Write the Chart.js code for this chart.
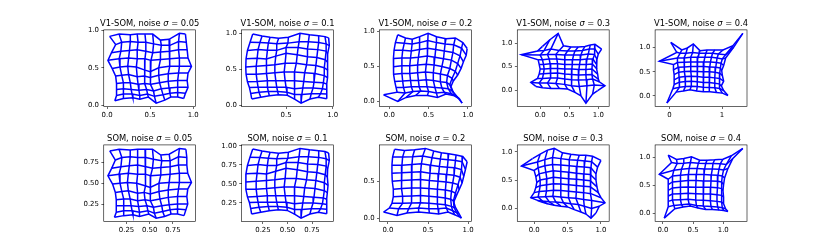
<!DOCTYPE html>
<html>
<head>
<meta charset="utf-8">
<script src="https://cdn.jsdelivr.net/npm/chart.js@4.4.0/dist/chart.umd.min.js"></script>
<style>
  html, body { margin: 0; padding: 0; background: #fff; }
  #fig { position: relative; width: 830px; height: 249px; overflow: hidden; }
  #fig canvas { position: absolute; }
</style>
</head>
<body>
<div id="fig"></div>
<script>
// SOM node grids (10 x 10), one row of the lattice per inner array
// V1-SOM, sigma 0.05
const v1_005_x = [
  [0.03,0.14,0.27,0.35,0.44,0.53,0.62,0.72,0.84,0.91],
  [0.10,0.17,0.27,0.36,0.45,0.54,0.63,0.73,0.83,0.92],
  [0.05,0.16,0.26,0.35,0.45,0.53,0.62,0.73,0.83,0.93],
  [0.01,0.14,0.25,0.35,0.44,0.51,0.62,0.73,0.84,0.94],
  [0.06,0.15,0.24,0.34,0.44,0.50,0.60,0.72,0.84,0.98],
  [0.10,0.17,0.25,0.35,0.43,0.50,0.60,0.71,0.83,0.94],
  [0.11,0.19,0.27,0.36,0.44,0.51,0.61,0.71,0.82,0.93],
  [0.11,0.19,0.28,0.37,0.46,0.54,0.63,0.72,0.82,0.94],
  [0.11,0.19,0.29,0.38,0.47,0.55,0.65,0.73,0.82,0.91],
  [0.09,0.19,0.30,0.38,0.48,0.57,0.67,0.74,0.82,0.89]
];
const v1_005_y = [
  [0.92,0.95,0.94,0.95,0.95,0.95,0.87,0.88,0.96,0.95],
  [0.81,0.84,0.85,0.84,0.84,0.82,0.80,0.80,0.85,0.84],
  [0.70,0.72,0.73,0.74,0.72,0.70,0.71,0.72,0.74,0.74],
  [0.60,0.62,0.63,0.62,0.62,0.60,0.61,0.62,0.63,0.63],
  [0.49,0.51,0.52,0.51,0.47,0.45,0.50,0.52,0.52,0.52],
  [0.39,0.40,0.41,0.38,0.39,0.37,0.40,0.42,0.43,0.43],
  [0.29,0.30,0.30,0.28,0.29,0.28,0.30,0.32,0.33,0.33],
  [0.21,0.22,0.21,0.20,0.21,0.19,0.22,0.23,0.24,0.24],
  [0.13,0.15,0.15,0.13,0.15,0.12,0.14,0.16,0.17,0.16],
  [0.06,0.09,0.10,0.08,0.11,0.03,0.07,0.11,0.11,0.09]
];

// V1-SOM, sigma 0.1
const v1_01_x = [
  [0.143,0.243,0.329,0.421,0.525,0.65,0.75,0.85,0.918,0.957],
  [0.114,0.22,0.31,0.40,0.52,0.64,0.74,0.85,0.93,0.964],
  [0.086,0.20,0.30,0.40,0.50,0.63,0.73,0.84,0.93,0.946],
  [0.071,0.19,0.29,0.39,0.50,0.62,0.73,0.83,0.92,0.943],
  [0.068,0.18,0.29,0.38,0.49,0.61,0.72,0.82,0.91,0.95],
  [0.071,0.18,0.29,0.38,0.48,0.59,0.70,0.81,0.91,0.943],
  [0.086,0.19,0.30,0.39,0.49,0.59,0.69,0.80,0.90,0.936],
  [0.107,0.20,0.30,0.40,0.50,0.59,0.68,0.79,0.89,0.939],
  [0.121,0.21,0.31,0.41,0.51,0.59,0.67,0.77,0.87,0.936],
  [0.132,0.229,0.321,0.418,0.514,0.596,0.661,0.757,0.846,0.936]
];
const v1_01_y = [
  [0.986,0.959,0.941,0.927,0.941,0.995,0.977,0.963,0.95,0.932],
  [0.872,0.87,0.86,0.85,0.86,0.88,0.88,0.87,0.85,0.826],
  [0.758,0.77,0.76,0.76,0.80,0.80,0.78,0.77,0.75,0.712],
  [0.644,0.65,0.64,0.68,0.72,0.70,0.67,0.66,0.63,0.598],
  [0.53,0.54,0.55,0.56,0.58,0.58,0.56,0.55,0.52,0.484],
  [0.429,0.43,0.44,0.45,0.46,0.46,0.45,0.44,0.41,0.384],
  [0.324,0.33,0.34,0.34,0.34,0.34,0.33,0.32,0.31,0.292],
  [0.247,0.25,0.25,0.25,0.25,0.23,0.24,0.24,0.23,0.219],
  [0.164,0.18,0.19,0.19,0.18,0.15,0.15,0.16,0.16,0.155],
  [0.087,0.11,0.132,0.146,0.137,0.082,0.03,0.087,0.11,0.091]
];

// V1-SOM, sigma 0.2
const v1_02_x = [
  [0.107,0.206,0.292,0.386,0.494,0.601,0.721,0.841,0.936,0.991],
  [0.077,0.19,0.29,0.39,0.49,0.60,0.71,0.82,0.92,0.979],
  [0.06,0.17,0.28,0.38,0.49,0.59,0.70,0.81,0.90,0.944],
  [0.052,0.16,0.27,0.37,0.48,0.58,0.69,0.79,0.87,0.914],
  [0.052,0.16,0.26,0.36,0.47,0.57,0.67,0.77,0.84,0.871],
  [0.056,0.16,0.26,0.36,0.46,0.56,0.65,0.74,0.80,0.815],
  [0.069,0.17,0.27,0.37,0.47,0.56,0.65,0.73,0.77,0.785],
  [0.086,0.18,0.28,0.38,0.48,0.58,0.67,0.75,0.80,0.815],
  [0.099,0.20,0.30,0.40,0.50,0.60,0.70,0.79,0.85,0.871],
  [-0.073,0.107,0.215,0.335,0.485,0.614,0.721,0.815,0.893,0.927]
];
const v1_02_y = [
  [0.953,0.906,0.887,0.925,0.972,0.925,0.896,0.906,0.84,0.755],
  [0.84,0.83,0.82,0.84,0.87,0.84,0.82,0.81,0.76,0.66],
  [0.731,0.73,0.72,0.74,0.76,0.74,0.72,0.70,0.65,0.566],
  [0.613,0.62,0.62,0.63,0.65,0.63,0.61,0.59,0.54,0.472],
  [0.495,0.51,0.51,0.52,0.53,0.52,0.50,0.47,0.43,0.377],
  [0.387,0.40,0.40,0.41,0.42,0.41,0.39,0.37,0.33,0.292],
  [0.283,0.29,0.30,0.30,0.31,0.30,0.28,0.27,0.24,0.212],
  [0.198,0.20,0.21,0.21,0.21,0.20,0.19,0.18,0.15,0.132],
  [0.132,0.12,0.14,0.15,0.14,0.12,0.13,0.11,0.08,0.057],
  [0.094,0.0,0.057,0.085,0.085,0.057,0.104,0.085,0.038,-0.024]
];

// V1-SOM, sigma 0.3
const v1_03_x = [
  [0.04,0.167,0.31,0.402,0.529,0.655,0.77,0.862,0.943,1.057],
  [-0.046,0.069,0.184,0.328,0.471,0.598,0.73,0.845,0.943,1.0],
  [-0.322,0,0.126,0.27,0.425,0.575,0.701,0.828,0.931,0.977],
  [-0.034,0.04,0.155,0.287,0.425,0.557,0.69,0.805,0.908,0.966],
  [-0.017,0.057,0.172,0.299,0.425,0.552,0.678,0.793,0.897,0.977],
  [0,0.069,0.184,0.299,0.425,0.546,0.667,0.787,0.891,0.989],
  [-0.017,0.057,0.184,0.299,0.425,0.54,0.661,0.787,0.891,1.0],
  [-0.046,0.04,0.172,0.299,0.425,0.54,0.655,0.793,0.902,1.017],
  [-0.161,-0.017,0.126,0.27,0.414,0.54,0.672,0.805,0.931,1.115],
  [-0.075,0.04,0.184,0.328,0.471,0.598,0.701,0.787,0.902,0.989]
];
const v1_03_y = [
  [0.929,1.071,1.206,0.943,0.915,0.915,0.929,0.957,0.972,0.872],
  [0.83,0.844,0.872,0.844,0.83,0.83,0.844,0.872,0.872,0.766],
  [0.752,0.745,0.759,0.759,0.745,0.745,0.745,0.766,0.759,0.66],
  [0.645,0.645,0.66,0.66,0.645,0.645,0.645,0.66,0.66,0.553],
  [0.546,0.546,0.56,0.56,0.546,0.546,0.546,0.546,0.553,0.447],
  [0.447,0.447,0.461,0.461,0.447,0.447,0.44,0.44,0.447,0.34],
  [0.34,0.348,0.355,0.362,0.34,0.333,0.319,0.326,0.333,0.234],
  [0.248,0.248,0.255,0.255,0.234,0.22,0.213,0.22,0.234,0.177],
  [0.163,0.149,0.149,0.142,0.121,0.092,0.078,0.092,0.106,0.092],
  [0.078,0.05,0.035,0.035,0.021,-0.05,-0.121,-0.277,-0.085,-0.014]
];

// V1-SOM, sigma 0.4
const v1_04_x = [
  [0.025,0.233,0.34,0.453,0.579,0.717,0.862,1.019,1.208,1.396],
  [0.138,0.201,0.314,0.44,0.566,0.692,0.818,0.931,1.069,1.22],
  [-0.195,0.151,0.277,0.403,0.535,0.673,0.799,0.906,1.006,1.069],
  [0.075,0.151,0.277,0.403,0.528,0.654,0.78,0.893,0.981,1.031],
  [0.075,0.164,0.283,0.403,0.528,0.654,0.767,0.881,0.969,0.994],
  [0.088,0.176,0.289,0.409,0.528,0.642,0.755,0.868,0.956,1.006],
  [0.088,0.182,0.296,0.415,0.528,0.642,0.755,0.862,0.956,1.031],
  [0.088,0.189,0.302,0.415,0.528,0.642,0.755,0.862,0.943,0.987],
  [0.063,0.189,0.302,0.415,0.528,0.642,0.755,0.862,0.956,1.031],
  [-0.05,0.126,0.264,0.39,0.516,0.642,0.767,0.893,1.006,1.113]
];
const v1_04_y = [
  [1.11,0.952,0.993,1.076,0.938,0.952,0.952,0.952,1.041,1.297],
  [0.903,0.883,0.883,0.897,0.883,0.883,0.883,0.869,0.855,1.007],
  [0.717,0.786,0.786,0.8,0.8,0.8,0.8,0.786,0.766,0.786],
  [0.648,0.69,0.697,0.703,0.703,0.703,0.703,0.69,0.676,0.628],
  [0.538,0.593,0.6,0.607,0.607,0.607,0.6,0.593,0.579,0.524],
  [0.441,0.49,0.503,0.51,0.503,0.497,0.497,0.49,0.469,0.421],
  [0.331,0.386,0.4,0.407,0.4,0.386,0.386,0.372,0.359,0.303],
  [0.234,0.283,0.297,0.303,0.29,0.276,0.276,0.262,0.248,0.207],
  [0.145,0.179,0.193,0.2,0.193,0.179,0.172,0.166,0.152,0.11],
  [-0.152,0.076,0.097,0.124,0.097,0.083,0.083,0.069,0.055,0.007]
];

// SOM, sigma 0.05
const som_005_x = [
  [0.07,0.17,0.29,0.37,0.45,0.53,0.62,0.71,0.82,0.89],
  [0.13,0.20,0.29,0.37,0.46,0.54,0.63,0.72,0.81,0.90],
  [0.09,0.19,0.28,0.37,0.46,0.53,0.62,0.72,0.81,0.90],
  [0.05,0.17,0.27,0.37,0.45,0.51,0.62,0.72,0.82,0.91],
  [0.10,0.18,0.26,0.36,0.45,0.505,0.60,0.71,0.82,0.95],
  [0.13,0.20,0.27,0.37,0.44,0.505,0.60,0.70,0.81,0.91],
  [0.14,0.22,0.29,0.37,0.45,0.51,0.61,0.70,0.80,0.90],
  [0.14,0.22,0.30,0.38,0.47,0.54,0.63,0.71,0.80,0.91],
  [0.14,0.22,0.31,0.39,0.48,0.55,0.64,0.72,0.80,0.89],
  [0.12,0.22,0.32,0.39,0.49,0.57,0.66,0.73,0.80,0.87]
];
const som_005_y = [
  [0.89,0.91,0.90,0.91,0.91,0.91,0.84,0.85,0.92,0.91],
  [0.78,0.81,0.82,0.81,0.81,0.79,0.77,0.77,0.82,0.81],
  [0.68,0.70,0.71,0.72,0.70,0.68,0.69,0.70,0.72,0.72],
  [0.59,0.61,0.62,0.61,0.61,0.59,0.60,0.61,0.62,0.62],
  [0.49,0.50,0.51,0.50,0.47,0.45,0.50,0.51,0.51,0.51],
  [0.39,0.40,0.41,0.38,0.39,0.37,0.40,0.42,0.43,0.43],
  [0.30,0.31,0.31,0.29,0.30,0.29,0.31,0.33,0.34,0.34],
  [0.23,0.23,0.23,0.22,0.23,0.21,0.23,0.24,0.25,0.25],
  [0.15,0.17,0.17,0.15,0.17,0.14,0.16,0.18,0.19,0.18],
  [0.09,0.11,0.12,0.10,0.13,0.08,0.10,0.13,0.13,0.11]
];

// SOM, sigma 0.1
const som_01_x = [
  [0.146,0.241,0.323,0.41,0.509,0.628,0.723,0.818,0.882,0.919],
  [0.118,0.219,0.305,0.39,0.504,0.618,0.713,0.818,0.894,0.926],
  [0.092,0.20,0.295,0.39,0.485,0.609,0.704,0.808,0.894,0.909],
  [0.077,0.19,0.286,0.38,0.485,0.599,0.704,0.799,0.884,0.906],
  [0.075,0.181,0.286,0.371,0.476,0.59,0.694,0.789,0.875,0.913],
  [0.077,0.181,0.286,0.371,0.466,0.571,0.675,0.78,0.875,0.906],
  [0.092,0.19,0.295,0.38,0.476,0.571,0.666,0.77,0.865,0.899],
  [0.112,0.20,0.295,0.39,0.485,0.571,0.656,0.761,0.856,0.902],
  [0.125,0.21,0.305,0.40,0.495,0.571,0.647,0.742,0.837,0.899],
  [0.135,0.228,0.315,0.407,0.498,0.576,0.638,0.729,0.814,0.899]
];
const som_01_y = [
  [0.957,0.931,0.914,0.901,0.914,0.965,0.948,0.935,0.923,0.905],
  [0.848,0.847,0.837,0.828,0.837,0.856,0.856,0.847,0.828,0.805],
  [0.74,0.752,0.742,0.742,0.78,0.78,0.761,0.752,0.733,0.696],
  [0.632,0.638,0.628,0.666,0.704,0.685,0.657,0.647,0.619,0.588],
  [0.524,0.533,0.543,0.552,0.571,0.571,0.552,0.543,0.514,0.48],
  [0.428,0.429,0.438,0.448,0.457,0.457,0.448,0.438,0.41,0.385],
  [0.328,0.334,0.343,0.343,0.343,0.343,0.334,0.324,0.315,0.297],
  [0.255,0.258,0.258,0.258,0.258,0.239,0.248,0.248,0.239,0.228],
  [0.176,0.191,0.201,0.201,0.191,0.163,0.163,0.172,0.172,0.167],
  [0.103,0.125,0.145,0.159,0.15,0.098,0.049,0.103,0.125,0.106]
];

// SOM, sigma 0.2
const som_02_x = [
  [0.083,0.208,0.333,0.467,0.571,0.667,0.758,0.85,0.933,0.988],
  [0.058,0.183,0.308,0.433,0.55,0.654,0.75,0.842,0.925,0.967],
  [0.05,0.175,0.3,0.417,0.533,0.642,0.742,0.833,0.917,0.946],
  [0.05,0.167,0.292,0.408,0.525,0.633,0.733,0.825,0.9,0.925],
  [0.054,0.167,0.288,0.404,0.517,0.625,0.725,0.808,0.875,0.888],
  [0.067,0.175,0.292,0.404,0.512,0.617,0.717,0.792,0.842,0.85],
  [0.067,0.183,0.3,0.408,0.512,0.617,0.713,0.783,0.817,0.821],
  [0.05,0.183,0.3,0.408,0.512,0.617,0.717,0.792,0.825,0.842],
  [0.017,0.133,0.258,0.383,0.508,0.625,0.729,0.808,0.858,0.883],
  [-0.054,0.113,0.238,0.383,0.517,0.633,0.75,0.833,0.892,0.917]
];
const som_02_y = [
  [0.932,0.918,0.927,0.945,0.909,0.886,0.873,0.855,0.836,0.764],
  [0.827,0.827,0.832,0.841,0.818,0.8,0.791,0.782,0.764,0.659],
  [0.718,0.718,0.727,0.736,0.718,0.7,0.691,0.682,0.659,0.568],
  [0.609,0.614,0.623,0.627,0.609,0.6,0.591,0.582,0.555,0.477],
  [0.5,0.509,0.518,0.523,0.509,0.5,0.491,0.477,0.455,0.386],
  [0.391,0.4,0.409,0.409,0.4,0.391,0.382,0.364,0.341,0.295],
  [0.291,0.295,0.3,0.305,0.295,0.286,0.273,0.255,0.236,0.218],
  [0.2,0.2,0.205,0.209,0.2,0.191,0.182,0.159,0.145,0.145],
  [0.136,0.127,0.127,0.136,0.127,0.127,0.136,0.1,0.073,0.068],
  [0.082,0.036,0.068,0.082,0.068,0.055,0.082,0.045,0.018,0.0]
];

// SOM, sigma 0.3
const som_03_x = [
  [-0.025,0.09,0.2,0.3,0.425,0.55,0.675,0.775,0.875,1.0],
  [-0.19,0.05,0.16,0.275,0.4,0.525,0.65,0.76,0.86,0.95],
  [0.0,0.06,0.16,0.275,0.4,0.525,0.64,0.75,0.85,0.925],
  [0.025,0.075,0.175,0.285,0.4,0.52,0.635,0.745,0.84,0.925],
  [0.04,0.09,0.19,0.29,0.4,0.515,0.63,0.74,0.84,0.94],
  [0.025,0.09,0.19,0.29,0.4,0.515,0.63,0.74,0.84,0.96],
  [0.0,0.075,0.18,0.29,0.4,0.515,0.63,0.74,0.85,1.0],
  [-0.05,0.06,0.17,0.28,0.395,0.51,0.625,0.74,0.86,1.06],
  [0.05,0.125,0.225,0.325,0.44,0.55,0.66,0.75,0.86,0.975],
  [0.1,0.2,0.3,0.4,0.5,0.6,0.7,0.775,0.85,0.925]
];
const som_03_y = [
  [0.88,0.958,1.03,1.06,0.982,0.958,0.94,0.94,0.922,0.85],
  [0.749,0.82,0.862,0.898,0.88,0.862,0.85,0.838,0.826,0.731],
  [0.671,0.719,0.755,0.778,0.766,0.755,0.743,0.731,0.719,0.611],
  [0.563,0.611,0.641,0.665,0.653,0.641,0.623,0.611,0.599,0.503],
  [0.461,0.503,0.527,0.551,0.539,0.527,0.515,0.503,0.491,0.383],
  [0.371,0.401,0.419,0.437,0.431,0.419,0.407,0.395,0.383,0.281],
  [0.281,0.299,0.311,0.323,0.317,0.305,0.293,0.281,0.263,0.192],
  [0.192,0.204,0.21,0.216,0.204,0.192,0.18,0.162,0.144,0.102],
  [0.144,0.132,0.12,0.114,0.102,0.084,0.072,0.042,0.0,0.042],
  [0.12,0.084,0.06,0.042,0.03,-0.018,-0.06,-0.096,-0.168,-0.078]
];

// SOM, sigma 0.4
const som_04_x = [
  [0.088,0.225,0.346,0.473,0.61,0.731,0.857,0.995,1.132,1.324],
  [0.143,0.236,0.346,0.456,0.588,0.709,0.83,0.951,1.049,1.159],
  [-0.06,0.181,0.308,0.434,0.566,0.692,0.819,0.929,1.005,1.077],
  [0.088,0.159,0.291,0.423,0.555,0.681,0.802,0.912,0.984,1.022],
  [0.088,0.159,0.291,0.418,0.549,0.676,0.797,0.907,0.973,1.005],
  [0.088,0.159,0.291,0.418,0.544,0.67,0.791,0.901,0.973,0.995],
  [0.088,0.159,0.291,0.418,0.544,0.665,0.786,0.896,0.973,1.005],
  [0.088,0.159,0.291,0.418,0.544,0.665,0.786,0.896,0.973,1.005],
  [0.088,0.181,0.308,0.434,0.555,0.676,0.797,0.907,0.984,1.038],
  [0.022,0.198,0.335,0.456,0.582,0.709,0.819,0.929,1.005,1.077]
];
const som_04_y = [
  [1.042,0.964,0.982,1.012,0.952,0.952,0.958,0.97,1.03,1.163],
  [0.91,0.892,0.898,0.91,0.898,0.892,0.892,0.886,0.873,0.982],
  [0.699,0.771,0.789,0.801,0.801,0.795,0.795,0.789,0.777,0.801],
  [0.608,0.669,0.681,0.693,0.693,0.693,0.687,0.681,0.669,0.633],
  [0.512,0.56,0.572,0.584,0.584,0.578,0.578,0.572,0.56,0.512],
  [0.41,0.452,0.464,0.47,0.464,0.464,0.464,0.458,0.44,0.404],
  [0.307,0.343,0.349,0.355,0.349,0.343,0.343,0.331,0.319,0.289],
  [0.211,0.235,0.241,0.247,0.235,0.229,0.223,0.211,0.199,0.169],
  [0.114,0.139,0.151,0.163,0.139,0.127,0.12,0.108,0.096,0.078],
  [-0.09,0.078,0.108,0.127,0.09,0.066,0.066,0.054,0.048,0.03]
];

const models = ['V1-SOM', 'SOM'];
const noises = ['0.05', '0.1', '0.2', '0.3', '0.4'];

// tick labels per panel: [x ticks, y ticks]
const ticksTop = [
  [['0.0','0.5','1.0'], ['0.0','0.5','1.0']],
  [['0.5','1.0'], ['0.0','0.5','1.0']],
  [['0.0','0.5','1.0'], ['0.0','0.5','1.0']],
  [['0.0','0.5','1.0'], ['0.0','0.5','1.0']],
  [['0','1'], ['0.0','0.5','1.0']]
];
const ticksBottom = [
  [['0.25','0.50','0.75'], ['0.25','0.50','0.75']],
  [['0.25','0.50','0.75'], ['0.25','0.50','0.75','1.00']],
  [['0.0','0.5','1.0'], ['0.0','0.5']],
  [['0.0','0.5','1.0'], ['0.0','0.5','1.0']],
  [['0.0','0.5','1.0'], ['0.0','0.5','1.0']]
];

const gridsTop = [[v1_005_x, v1_005_y], [v1_01_x, v1_01_y], [v1_02_x, v1_02_y], [v1_03_x, v1_03_y], [v1_04_x, v1_04_y]];
const gridsBottom = [[som_005_x, som_005_y], [som_01_x, som_01_y], [som_02_x, som_02_y], [som_03_x, som_03_y], [som_04_x, som_04_y]];

// figure layout (matplotlib-like subplot params)
const FIG_W = 830, FIG_H = 249;
const axW = 0.775 * FIG_W / (5 + 4 * 0.5);
const axH = 0.77 * FIG_H / (2 + 0.5);
const tickFont = { family: 'DejaVu Sans', size: 6.94 };
const titlePx = 8.33;

function limits(rows) {
  const all = rows.flat();
  const lo = Math.min(...all), hi = Math.max(...all);
  const m = 0.05 * (hi - lo);
  return [lo - m, hi + m];
}

const framePlugin = {
  id: 'frame',
  afterDraw(chart, args, opts) {
    const { ctx, chartArea: a } = chart;
    ctx.save();
    ctx.strokeStyle = '#000';
    ctx.lineWidth = 0.6;
    ctx.strokeRect(a.left, a.top, a.right - a.left, a.bottom - a.top);

    // title with italic sigma
    const parts = opts.parts;
    const fonts = parts.map(p => (p[1] ? 'italic ' : '') + titlePx + 'px "DejaVu Sans"');
    let total = 0;
    const widths = parts.map((p, i) => { ctx.font = fonts[i]; const w = ctx.measureText(p[0]).width; total += w; return w; });
    let x = (a.left + a.right) / 2 - total / 2;
    ctx.fillStyle = '#000';
    ctx.textBaseline = 'alphabetic';
    ctx.textAlign = 'left';
    parts.forEach((p, i) => { ctx.font = fonts[i]; ctx.fillText(p[0], x, a.top - 4.2); x += widths[i]; });
    ctx.restore();
  }
};

function lineSet(points) {
  return { data: points, showLine: true, borderColor: '#0000ff', borderWidth: 1.5, pointRadius: 0, fill: false, tension: 0 };
}

function makePanel(row, col) {
  const [gx, gy] = (row === 0 ? gridsTop : gridsBottom)[col];
  const [xt, yt] = (row === 0 ? ticksTop : ticksBottom)[col];
  const l = 0.125 * FIG_W + col * axW * 1.5;
  const t = 0.12 * FIG_H + row * axH * 1.5;
  const cl = Math.floor(l) - 36, ct = Math.floor(t) - 22;
  const cw = 160, ch = 116;
  const yw = l - cl, topPad = t - ct;
  const rightPad = cw - yw - axW;
  const xh = ch - topPad - axH;

  const cv = document.createElement('canvas');
  cv.width = cw; cv.height = ch;
  cv.style.left = cl + 'px'; cv.style.top = ct + 'px';
  document.getElementById('fig').appendChild(cv);

  const datasets = [];
  for (let r = 0; r < gx.length; r++) {
    datasets.push(lineSet(gx[r].map((x, c) => ({ x, y: gy[r][c] }))));
  }
  for (let c = 0; c < gx[0].length; c++) {
    datasets.push(lineSet(gx.map((rw, r) => ({ x: rw[c], y: gy[r][c] }))));
  }

  const [xmin, xmax] = limits(gx);
  const [ymin, ymax] = limits(gy);

  const axisGrid = { drawOnChartArea: false, drawTicks: true, tickLength: 2.4, color: '#000', lineWidth: 0.6 };

  new Chart(cv, {
    type: 'scatter',
    data: { datasets },
    plugins: [framePlugin],
    options: {
      responsive: false,
      animation: false,
      devicePixelRatio: 1,
      events: [],
      layout: { padding: { left: 0, top: topPad, right: rightPad, bottom: 0 } },
      plugins: {
        legend: { display: false },
        tooltip: { enabled: false },
        frame: { parts: [[models[row] + ', noise ', false], ['σ', true], [' = ' + noises[col], false]] }
      },
      scales: {
        x: {
          type: 'linear', min: xmin, max: xmax,
          afterBuildTicks: s => { s.ticks = xt.map(v => ({ value: parseFloat(v) })); },
          afterFit: s => { s.height = xh; },
          ticks: { callback: (v, i) => xt[i], font: tickFont, color: '#000', padding: 2.4, autoSkip: false, maxRotation: 0, minRotation: 0 },
          grid: axisGrid,
          border: { display: false }
        },
        y: {
          type: 'linear', min: ymin, max: ymax,
          afterBuildTicks: s => { s.ticks = yt.map(v => ({ value: parseFloat(v) })); },
          afterFit: s => { s.width = yw; },
          ticks: { callback: (v, i) => yt[i], font: tickFont, color: '#000', padding: 2.4, autoSkip: false },
          grid: axisGrid,
          border: { display: false }
        }
      }
    }
  });
}

for (let row = 0; row < 2; row++) {
  for (let col = 0; col < 5; col++) makePanel(row, col);
}
</script>
</body>
</html>
